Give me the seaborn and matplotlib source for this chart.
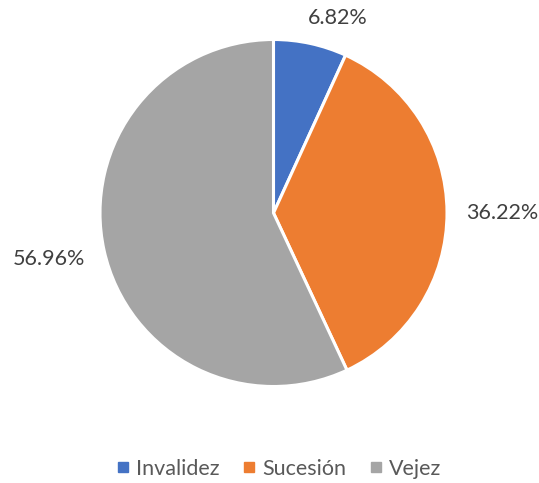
import matplotlib
matplotlib.use("Agg")
import matplotlib.pyplot as plt
from matplotlib.lines import Line2D
import seaborn as sns

categories = ["Invalidez", "Sucesión", "Vejez"]
values = [6.82, 36.22, 56.96]
colors = ["#4472C4", "#ED7D31", "#A5A5A5"]

# label anchor positions in units of pie radius (layout only)
label_pos = [(0.372, 1.124), (1.317, 0.0), (-1.297, -0.265)]

sns.set_theme(style="white")
plt.rcParams["font.family"] = ["Lato", "DejaVu Sans"]

fig = plt.figure(figsize=(5.39, 4.83), dpi=100)
ax = fig.add_axes([100 / 539, 1 - 386.5 / 483, 347 / 539, 347 / 483])
ax.pie(values, colors=colors, startangle=90, counterclock=False,
       radius=1.0, wedgeprops=dict(edgecolor="white", linewidth=2.2))
ax.set_xlim(-1, 1)
ax.set_ylim(-1, 1)
ax.set_aspect("auto")
ax.axis("off")

for v, (x, y) in zip(values, label_pos):
    ax.text(x, y, f"{v:.2f}%", ha="center", va="center", fontsize=15.5,
            color="#404040", clip_on=False)

handles = [Line2D([0], [0], marker="s", linestyle="none", markersize=7,
                  markerfacecolor=c, markeredgecolor=c) for c in colors]
fig.legend(handles, categories, loc="center", bbox_to_anchor=(279 / 539, 1 - 469 / 483),
           ncol=3, frameon=False, fontsize=15.5, labelcolor="#595959",
           handlelength=0.6, handletextpad=0.3, columnspacing=1.1)

fig.savefig("out.png", dpi=100)
